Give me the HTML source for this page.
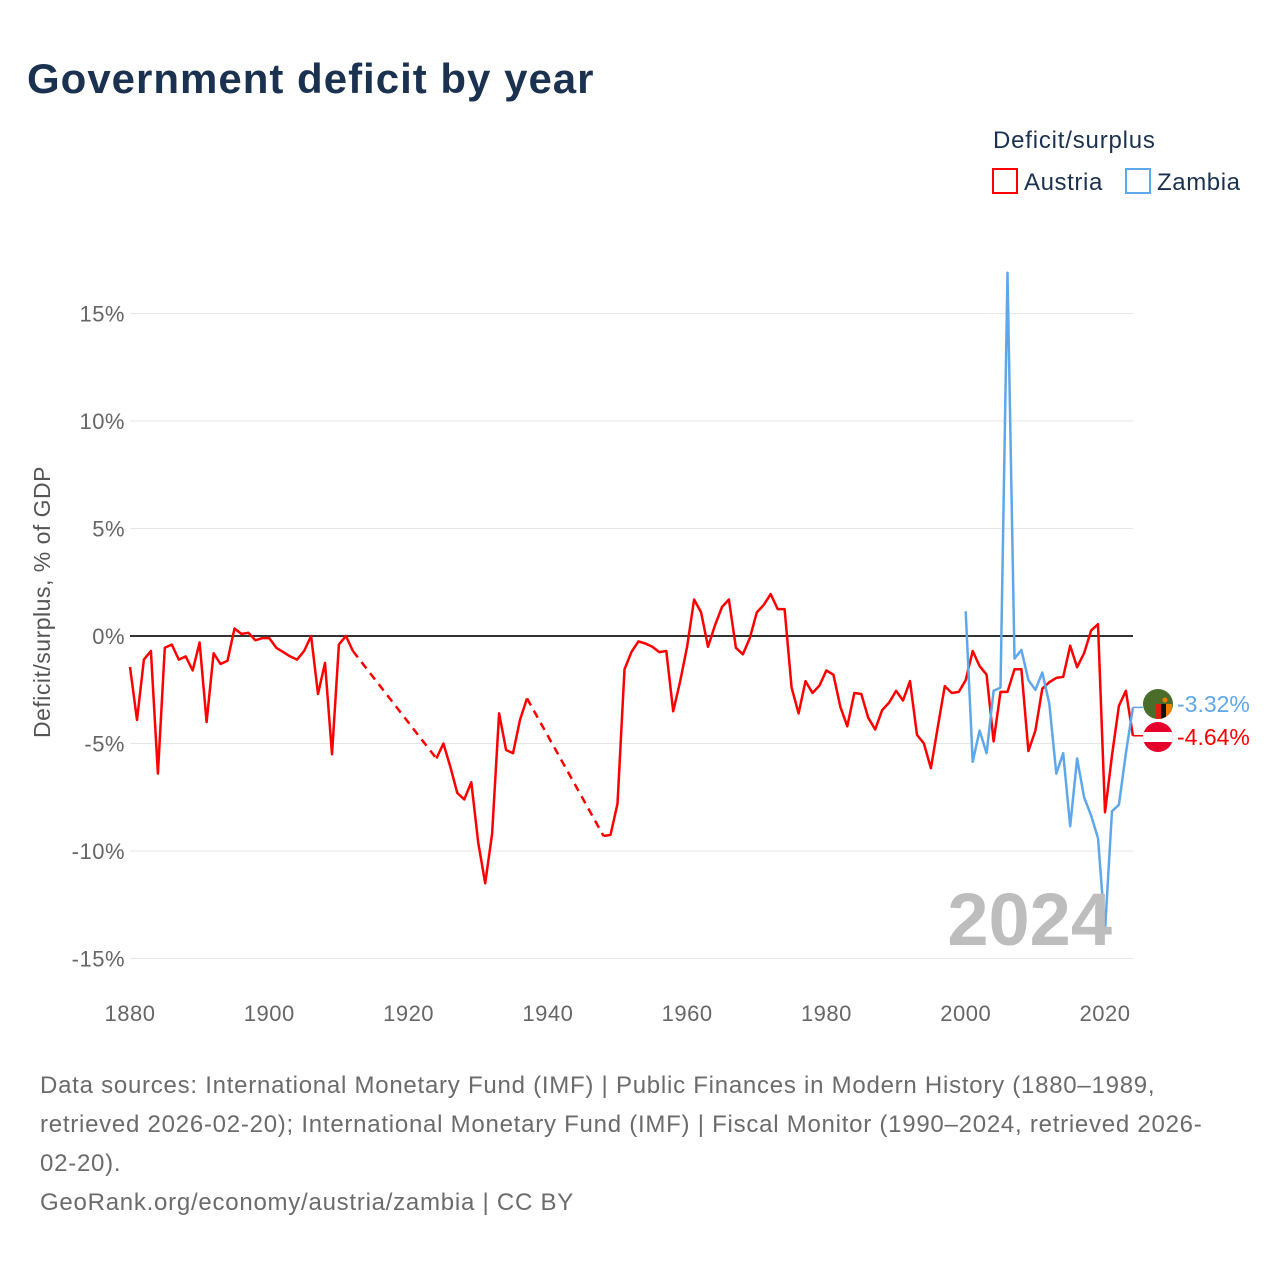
<!DOCTYPE html>
<html><head><meta charset="utf-8"><style>
body{margin:0;background:#fff;font-family:"Liberation Sans",sans-serif;}
svg text{font-family:"Liberation Sans",sans-serif;}
</style></head><body>
<svg width="1280" height="1280" viewBox="0 0 1280 1280" xmlns="http://www.w3.org/2000/svg">
<text x="27" y="93" font-size="42" font-weight="bold" fill="#1a3150" letter-spacing="1">Government deficit by year</text>
<g>
<text x="993" y="148" font-size="24" fill="#1a3150" letter-spacing="0.8">Deficit/surplus</text>
<g><rect x="993" y="169" width="24" height="24" fill="none" stroke="#ff0000" stroke-width="2"/><text x="1024" y="190" font-size="24" fill="#1a3150" letter-spacing="0.6">Austria</text></g>
<g><rect x="1126" y="169" width="24" height="24" fill="none" stroke="#5ea8ea" stroke-width="2"/><text x="1157" y="190" font-size="24" fill="#1a3150" letter-spacing="0.6">Zambia</text></g>
</g>
<g id="grid"></g><g id="series"></g><g id="labels"></g>
<text x="1112" y="945" font-size="74" font-weight="bold" fill="#bdbdbd" text-anchor="end">2024</text>
<text transform="translate(50,602) rotate(-90)" font-size="23" fill="#555" text-anchor="middle" letter-spacing="0.5">Deficit/surplus, % of GDP</text>
<g>
<g><clipPath id="cz"><circle cx="1158" cy="704" r="15"/></clipPath><g clip-path="url(#cz)"><rect x="1140" y="686" width="36" height="36" fill="#4a6e2a"/><rect x="1156" y="704" width="5" height="16" fill="#de2010"/><rect x="1161" y="704" width="5" height="16" fill="#111"/><rect x="1166" y="704" width="6" height="16" fill="#ef7d00"/><circle cx="1165" cy="700" r="2.5" fill="#ef7d00"/></g></g>
<g><clipPath id="ca"><circle cx="1158" cy="737" r="15"/></clipPath><g clip-path="url(#ca)"><rect x="1140" y="719" width="36" height="36" fill="#e4002b"/><rect x="1140" y="732" width="36" height="10" fill="#fff"/></g></g>
<text x="1177" y="712" font-size="23" fill="#5ea8ea">-3.32%</text>
<text x="1177" y="745" font-size="23" fill="#ff0000">-4.64%</text>
</g>
<g font-size="24" fill="#6b6b6b" letter-spacing="0.75">
<text x="40" y="1093">Data sources: International Monetary Fund (IMF) | Public Finances in Modern History (1880–1989,</text>
<text x="40" y="1132">retrieved 2026-02-20); International Monetary Fund (IMF) | Fiscal Monitor (1990–2024, retrieved 2026-</text>
<text x="40" y="1171">02-20).</text>
<text x="40" y="1210">GeoRank.org/economy/austria/zambia | CC BY</text>
</g>
</svg>
<script>
const austriaYears=[];for(let y=1880;y<=2024;y++)austriaYears.push(y);
const austriaValues=[-1.44,-3.9,-1.1,-0.7,-6.4,-0.55,-0.4,-1.1,-0.95,-1.6,-0.3,-4.0,-0.8,-1.3,-1.15,0.35,0.1,0.15,-0.2,-0.1,
-0.1,-0.55,-0.75,-0.95,-1.1,-0.7,0,-2.7,-1.25,-5.5,-0.4,0,-0.7,
null,null,null,null,null,null,null,null,null,null,null,
-5.7,-5.0,-6.1,-7.3,-7.6,-6.8,-9.6,-11.5,-9.2,-3.6,-5.3,-5.45,-3.9,-2.9,
null,null,null,null,null,null,null,null,null,null,
-9.3,-9.25,-7.8,-1.55,-0.75,-0.25,-0.35,-0.5,-0.75,-0.7,-3.5,-2.1,-0.5,1.7,1.1,-0.5,0.5,1.35,1.7,-0.55,-0.85,-0.1,
1.1,1.45,1.95,1.25,1.25,-2.4,-3.6,-2.1,-2.65,-2.3,-1.6,-1.8,-3.3,-4.2,-2.65,-2.7,-3.8,-4.35,-3.45,-3.1,
-2.55,-3.0,-2.1,-4.6,-5.0,-6.15,-4.2,-2.33,-2.65,-2.6,-2.05,-0.7,-1.4,-1.8,-4.9,-2.6,-2.6,-1.55,-1.55,-5.35,
-4.4,-2.45,-2.15,-1.95,-1.9,-0.45,-1.45,-0.8,0.25,0.55,-8.2,-5.55,-3.25,-2.55,-4.64];
const zambiaYears=[];for(let y=2000;y<=2024;y++)zambiaYears.push(y);
const zambiaValues=[1.15,-5.85,-4.4,-5.45,-2.55,-2.4,16.9,-1.05,-0.65,-2.05,-2.5,-1.7,-3.15,-6.4,-5.45,-8.85,-5.7,-7.5,-8.35,-9.4,-13.7,-8.15,-7.85,-5.45,-3.32];
const yTicks=[15,10,5,0,-5,-10,-15];
const yTickLabels=["15%","10%","5%","0%","-5%","-10%","-15%"];
const xTicks=[1880,1900,1920,1940,1960,1980,2000,2020];
const xScale=y=>130+(y-1880)*(1105-130)/140;
const yScale=v=>636-v*21.5;
const NS="http://www.w3.org/2000/svg";
function mk(tag,attrs,parent){const e=document.createElementNS(NS,tag);for(const k in attrs)e.setAttribute(k,attrs[k]);parent.appendChild(e);return e;}
const grid=document.getElementById('grid'),series=document.getElementById('series'),labels=document.getElementById('labels');
yTicks.forEach((t,i)=>{
 const l=mk('line',{x1:130,x2:1133,y1:yScale(t),y2:yScale(t),stroke:t===0?'#333':'#e6e6e6','stroke-width':t===0?2:1},grid);
 
 
 const tx=mk('text',{x:125,y:yScale(t)+8,'font-size':22,fill:'#666','text-anchor':'end','letter-spacing':0.5},labels);
 tx.textContent=yTickLabels[i];
 
 
});
xTicks.forEach(t=>{
 const tx=mk('text',{x:xScale(t),y:1021,'font-size':22,fill:'#666','text-anchor':'middle','letter-spacing':0.5},labels);
 tx.textContent=String(t);
 
 
});
function draw(years,vals,color,name){
 let solid='',dashed='',prev=null,inSeg=false;
 for(let i=0;i<years.length;i++){
  const v=vals[i];if(v===null){inSeg=false;continue;}
  const x=xScale(years[i]).toFixed(1),y=yScale(v).toFixed(1);
  if(prev&&prev.i!==i-1){dashed+=`M${prev.x},${prev.y}L${x},${y}`;}
  solid+=(inSeg?'L':'M')+x+','+y;inSeg=true;prev={i,x,y};
 }
 const p=mk('path',{d:solid,fill:'none',stroke:color,'stroke-width':2.5,'stroke-linejoin':'round'},series);
 
 
 if(dashed){const d=mk('path',{d:dashed,fill:'none',stroke:color,'stroke-width':2.5,'stroke-dasharray':'8,6'},series);
 
 }
}
draw(austriaYears,austriaValues,'#ff0000','austria');
draw(zambiaYears,zambiaValues,'#5ea8ea','zambia');
const ex=xScale(2024);
const c1=mk('path',{d:`M${ex},${yScale(-3.32)}H1143`,stroke:'#5ea8ea','stroke-width':1.5,fill:'none'},series);


const c2=mk('path',{d:`M${ex},${yScale(-4.64)}H1143`,stroke:'#ff0000','stroke-width':1.5,fill:'none'},series);


</script>
</body></html>
